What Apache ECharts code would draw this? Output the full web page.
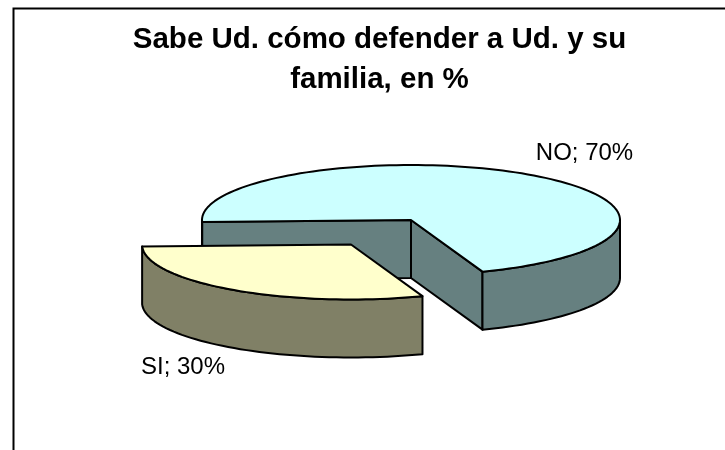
<!DOCTYPE html>
<html>
<head>
<meta charset="utf-8">
<style>html,body{margin:0;padding:0;background:#fff}#c{width:725px;height:450px}</style>
<script src="https://cdn.jsdelivr.net/npm/echarts@6/dist/echarts.min.js"></script>
</head>
<body>
<div id="c"></div>
<script>
const titleLines = ['Sabe Ud. cómo defender a Ud. y su', 'familia, en %'];
const categories = ['NO', 'SI'];
const values = [70, 30];
const topColors = ['#CCFFFF', '#FFFFCC'];
const sideColors = ['#668080', '#808066'];

const startAngle = 268;          // clockwise from 12 o'clock
const rx = 209, ry = 55, depth = 58;
const centers = [[411, 220], [351, 244.5]];
const labelPos = [[584.5, 153], [183, 367]];
const total = values.reduce((a, b) => a + b, 0);

function pt(c, deg, dy) {
  const r = deg * Math.PI / 180;
  return [c[0] + rx * Math.sin(r), c[1] - ry * Math.cos(r) + (dy || 0)];
}
function arc(c, a, b, dy) {
  const n = Math.max(2, Math.ceil(Math.abs(b - a) / 2)), out = [];
  for (let i = 0; i <= n; i++) out.push(pt(c, a + (b - a) * i / n, dy));
  return out;
}
const stroke = { stroke: '#000', lineWidth: 2, lineJoin: 'round' };

function renderItem(params, api) {
  const i = params.dataIndex;
  let before = 0;
  for (let k = 0; k < i; k++) before += values[k];
  const a = startAngle + before / total * 360;
  const b = a + api.value(1) / total * 360;
  const c = centers[i];
  const children = [];
  const side = sideColors[i];
  const poly = (points, fill) => ({ type: 'polygon', shape: { points }, style: Object.assign({ fill }, stroke) });

  // inner cut walls, drawn only when they face the viewer
  [[a, a - 90], [b, b + 90]].forEach(([edge, normal]) => {
    if (-Math.cos(normal * Math.PI / 180) > 0) {
      const p = pt(c, edge);
      children.push(poly([c, p, [p[0], p[1] + depth], [c[0], c[1] + depth]], side));
    }
  });
  // outer rim: the part of the slice on the front half of the ellipse (90..270 mod 360)
  [[90, 270], [450, 630]].forEach(([f0, f1]) => {
    const s = Math.max(a, f0), e = Math.min(b, f1);
    if (e > s) {
      children.push(poly(arc(c, s, e, 0).concat(arc(c, e, s, depth)), side));
    }
  });
  // top face
  children.push(poly([c].concat(arc(c, a, b, 0)), topColors[i]));
  // label
  children.push({
    type: 'text',
    style: {
      x: labelPos[i][0], y: labelPos[i][1],
      text: api.value(0) + '; ' + api.value(1) + '%',
      fill: '#000', font: '24px "Liberation Sans", Arial, sans-serif',
      align: 'center', verticalAlign: 'middle'
    }
  });
  return { type: 'group', children };
}

const chart = echarts.init(document.getElementById('c'), null, { renderer: 'canvas' });
chart.setOption({
  animation: false,
  backgroundColor: '#fff',
  title: {
    text: titleLines.join('\n'),
    left: 374.5, top: 15, textAlign: 'center',
    textStyle: { fontFamily: '"Liberation Sans", Arial, sans-serif', fontWeight: 'bold', fontSize: 29.5, lineHeight: 40, color: '#000' }
  },
  graphic: [
    { type: 'polyline', shape: { points: [[13.5, 450], [13.5, 8.5], [725, 8.5]] }, style: { fill: null, stroke: '#000', lineWidth: 2 } }
  ],
  series: [{
    type: 'custom',
    coordinateSystem: 'none',
    renderItem,
    data: categories.map((n, i) => [n, values[i]]),
    encode: { value: 1 }
  }]
});
</script>
</body>
</html>
